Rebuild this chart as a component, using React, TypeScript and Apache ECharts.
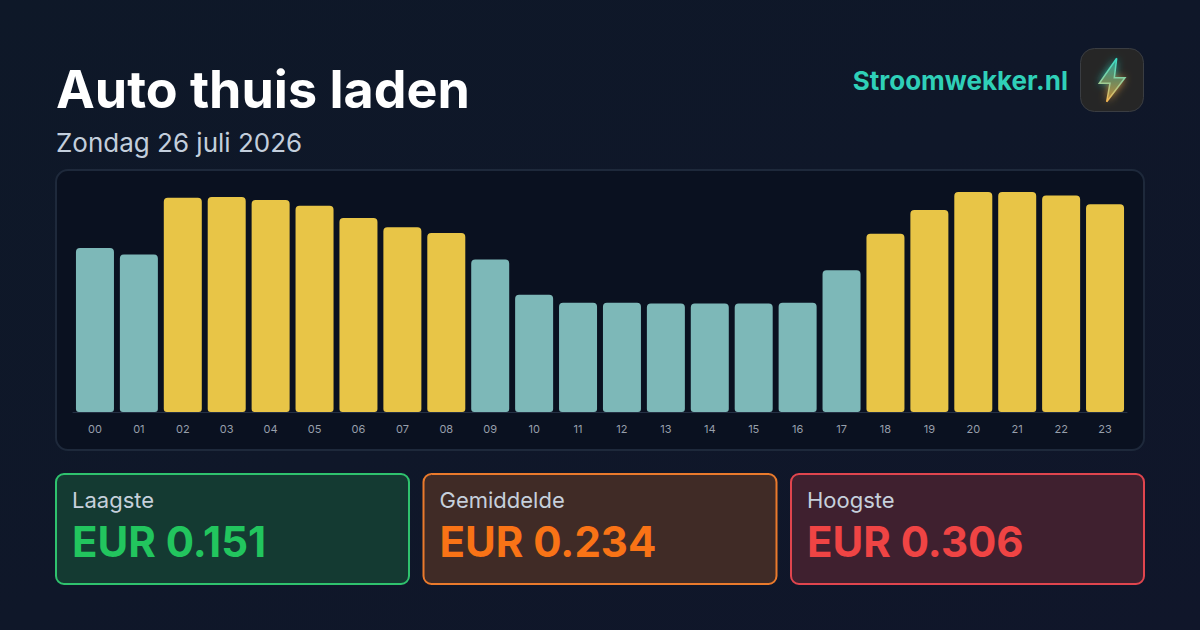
import React, { useEffect, useRef } from 'react';
import * as echarts from 'echarts';

const hours = ['00', '01', '02', '03', '04', '05', '06', '07', '08', '09', '10', '11', '12', '13', '14', '15', '16', '17', '18', '19', '20', '21', '22', '23'];
const prices = [0.228, 0.219, 0.298, 0.299, 0.295, 0.287, 0.27, 0.257, 0.249, 0.212, 0.163, 0.152, 0.152, 0.151, 0.151, 0.151, 0.152, 0.197, 0.248, 0.281, 0.306, 0.306, 0.301, 0.289];
const average = 0.234;

const cardLabels = ['Laagste', 'Gemiddelde', 'Hoogste'];
const cardValues = ['EUR 0.151', 'EUR 0.234', 'EUR 0.306'];
const cardX = [56, 423.5, 791];
const cardFill = ['#143a32', '#402b26', '#3f202f'];
const cardBorder = ['#2fc26e', '#ea7a2c', '#e0454e'];
const cardText = ['#22c55e', '#f97316', '#ef4444'];

const FONT = 'Inter';

const App: React.FC = () => {
  const chartRef = useRef<HTMLDivElement>(null);

  useEffect(() => {
    if (!chartRef.current) return;
    const chart = echarts.init(chartRef.current, null, { renderer: 'svg' });

    const cards: any[] = [];
    cardLabels.forEach((label, i) => {
      cards.push({
        type: 'rect',
        shape: { x: cardX[i], y: 474, width: 353, height: 110, r: 8 },
        style: { fill: cardFill[i], stroke: cardBorder[i], lineWidth: 2 }
      });
      cards.push({
        type: 'text',
        x: cardX[i] + 16,
        y: 500,
        style: { text: label, fill: '#c6d0dc', font: `400 22px ${FONT}`, verticalAlign: 'middle' }
      });
      cards.push({
        type: 'text',
        x: cardX[i] + 16,
        y: 541,
        style: { text: cardValues[i], fill: cardText[i], font: `700 42px ${FONT}`, verticalAlign: 'middle' }
      });
    });

    const option: any = {
      animation: false,
      backgroundColor: new echarts.graphic.LinearGradient(0, 0, 1, 1, [
        { offset: 0, color: '#0e1828' },
        { offset: 1, color: '#10162a' }
      ]),
      grid: { left: 73, top: 192, width: 1054, height: 220 },
      xAxis: {
        type: 'category',
        data: hours,
        axisLine: { lineStyle: { color: '#253044', width: 1 } },
        axisTick: { show: false },
        axisLabel: { color: '#979fab', fontSize: 11, fontFamily: FONT, margin: 11 }
      },
      yAxis: { type: 'value', min: 0, max: 0.306, show: false },
      series: [
        {
          type: 'bar',
          data: prices,
          barWidth: 38,
          itemStyle: {
            borderRadius: [4, 4, 3, 3],
            color: (p: any) => (p.value < average ? '#7db8b8' : '#e8c547')
          }
        }
      ],
      graphic: [
        {
          type: 'rect',
          z: -1,
          shape: { x: 56, y: 170, width: 1088, height: 280, r: 12 },
          style: { fill: '#0a1120', stroke: '#1e293b', lineWidth: 2 }
        },
        {
          type: 'text',
          x: 56,
          y: 89,
          style: { text: 'Auto thuis laden', fill: '#ffffff', font: `700 52px ${FONT}`, verticalAlign: 'middle' }
        },
        {
          type: 'text',
          x: 56,
          y: 142,
          style: { text: 'Zondag 26 juli 2026', fill: '#c3cedc', font: `400 26px ${FONT}`, verticalAlign: 'middle' }
        },
        {
          type: 'text',
          x: 1068,
          y: 80,
          style: { text: 'Stroomwekker.nl', fill: '#2fd0b8', font: `700 26px ${FONT}`, align: 'right', verticalAlign: 'middle' }
        },
        {
          type: 'rect',
          shape: { x: 1080.5, y: 48.5, width: 63, height: 63, r: 14 },
          style: { fill: '#262626', stroke: '#3a3d42', lineWidth: 1 }
        },
        // bovenste en onderste helft van de bliksem voor de twee gloedkleuren
        {
          type: 'polygon',
          shape: { points: [[1116.7, 58.3], [1099.3, 83.3], [1110, 83.3], [1114.3, 77.7]] },
          style: { fill: '#1fb5a8', shadowBlur: 8, shadowColor: 'rgba(45,212,191,0.9)' }
        },
        {
          type: 'polygon',
          shape: { points: [[1106.7, 101.7], [1125, 77.7], [1114.3, 77.7], [1110, 83.3]] },
          style: { fill: '#d8952f', shadowBlur: 8, shadowColor: 'rgba(245,170,70,0.9)' }
        },
        {
          type: 'polygon',
          shape: {
            points: [[1116.7, 58.3], [1099.3, 83.3], [1110, 83.3], [1106.7, 101.7], [1125, 77.7], [1114.3, 77.7]]
          },
          style: {
            fill: new echarts.graphic.LinearGradient(0, 0, 0, 1, [
              { offset: 0, color: '#27a79e' },
              { offset: 0.5, color: '#6b8a60' },
              { offset: 1, color: '#c98c35' }
            ]),
            stroke: new echarts.graphic.LinearGradient(0, 0, 0, 1, [
              { offset: 0, color: '#35dcc6' },
              { offset: 0.5, color: '#8fd0a0' },
              { offset: 1, color: '#f7b550' }
            ]),
            lineWidth: 1.5
          }
        },
        ...cards
      ]
    };

    chart.setOption(option);
    return () => chart.dispose();
  }, []);

  return <div ref={chartRef} style={{ position: 'absolute', left: 0, top: 0, width: 1200, height: 630 }} />;
};

export default App;
